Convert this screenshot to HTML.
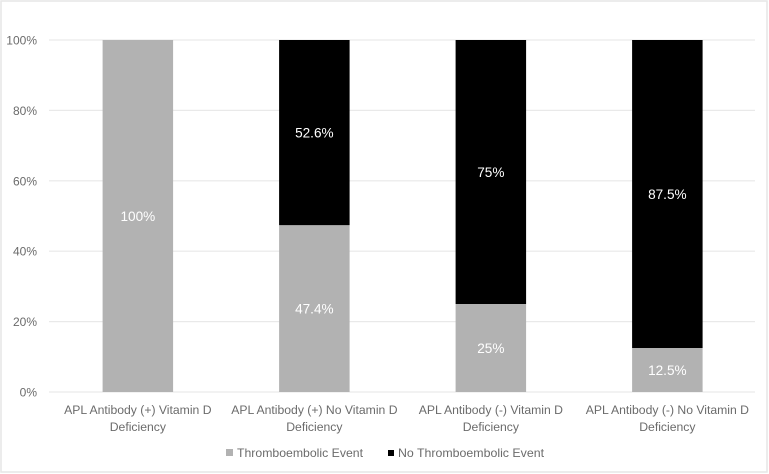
<!DOCTYPE html>
<html>
<head>
<meta charset="utf-8">
<style>
html,body{margin:0;padding:0;background:#fff;width:769px;height:474px;overflow:hidden}
svg{display:block;font-family:"Liberation Sans",sans-serif}
text{filter:blur(0.3px)}
</style>
</head>
<body>
<svg id="chart" width="769" height="474" viewBox="0 0 769 474" xmlns="http://www.w3.org/2000/svg">
<rect x="1" y="1" width="766" height="471" fill="#fff" stroke="#e6e6e6" stroke-width="1.5"/>
<g id="grid"></g>
<g id="ylabels"></g>
<g id="bars"></g>
<g id="xlabels"></g>
<g>
<g>
<rect x="226" y="449" width="7" height="7" fill="#b2b2b2"/>
<text x="237" y="457" font-size="12" fill="#6b6b6b" textLength="126" lengthAdjust="spacingAndGlyphs">Thromboembolic Event</text>
</g>
<g>
<rect x="388" y="450" width="6" height="6" fill="#000"/>
<text x="398" y="457" font-size="12" fill="#6b6b6b" textLength="146" lengthAdjust="spacingAndGlyphs">No Thromboembolic Event</text>
</g>
</g>
</svg>
<script>
var categoryLine1 = ["APL Antibody (+) Vitamin D", "APL Antibody (+) No Vitamin D", "APL Antibody (-) Vitamin D", "APL Antibody (-) No Vitamin D"];
var categoryLine2 = ["Deficiency", "Deficiency", "Deficiency", "Deficiency"];
var thromboValues = [100, 47.4, 25, 12.5];
var noThromboValues = [0, 52.6, 75, 87.5];
var thromboLabels = ["100%", "47.4%", "25%", "12.5%"];
var noThromboLabels = ["", "52.6%", "75%", "87.5%"];
var yTicks = [0, 20, 40, 60, 80, 100];

var NS = "http://www.w3.org/2000/svg";
var plotLeft = 49, plotRight = 755, plotTop = 40, plotBottom = 392, barWidth = 70.5, barShift = 0.6;
function yScale(v){ return plotBottom - (v / 100) * (plotBottom - plotTop); }
function xCenter(i){ return plotLeft + barShift + (plotRight - plotLeft) * (i + 0.5) / categoryLine1.length; }
function make(tag, attrs, parent, txt){
  var el = document.createElementNS(NS, tag);
  for (var k in attrs) el.setAttribute(k, attrs[k]);
  if (txt !== undefined) el.textContent = txt;
  parent.appendChild(el);
  return el;
}
var grid = document.getElementById("grid");
var ylabels = document.getElementById("ylabels");
var bars = document.getElementById("bars");
var xlabels = document.getElementById("xlabels");

yTicks.forEach(function(t){
  var line = make("line", {x1: plotLeft, x2: plotRight, y1: yScale(t), y2: yScale(t), stroke: "#e9e9e9", "stroke-width": 1.2}, grid);
  
  
  var lab = make("text", {x: 37, y: yScale(t) + 4.5, "text-anchor": "end", "font-size": 12, fill: "#6b6b6b"}, ylabels, t + "%");
  
  
});

categoryLine1.forEach(function(c, i){
  var cx = xCenter(i);
  var y0 = yScale(0), y1 = yScale(thromboValues[i]), y2 = yScale(thromboValues[i] + noThromboValues[i]);
  var b1 = make("rect", {x: cx - barWidth / 2, y: y1, width: barWidth, height: y0 - y1, fill: "#b2b2b2"}, bars);
  
  
  if (noThromboValues[i] > 0) {
    var b2 = make("rect", {x: cx - barWidth / 2, y: y2, width: barWidth, height: y1 - y2, fill: "#000"}, bars);
    
    
    var l2 = make("text", {x: cx, y: (y1 + y2) / 2 + 5, "text-anchor": "middle", "font-size": 13.6, fill: "#fff"}, bars, noThromboLabels[i]);
    
    
  }
  var l1 = make("text", {x: cx, y: (y0 + y1) / 2 + 5, "text-anchor": "middle", "font-size": 13.6, fill: "#fff"}, bars, thromboLabels[i]);
  
  
  var t1 = make("text", {x: cx, y: 414, "text-anchor": "middle", "font-size": 12.2, fill: "#6b6b6b"}, xlabels, c);
  
  
  var t2 = make("text", {x: cx, y: 431, "text-anchor": "middle", "font-size": 12.2, fill: "#6b6b6b"}, xlabels, categoryLine2[i]);
  
  
});
</script>
</body>
</html>
